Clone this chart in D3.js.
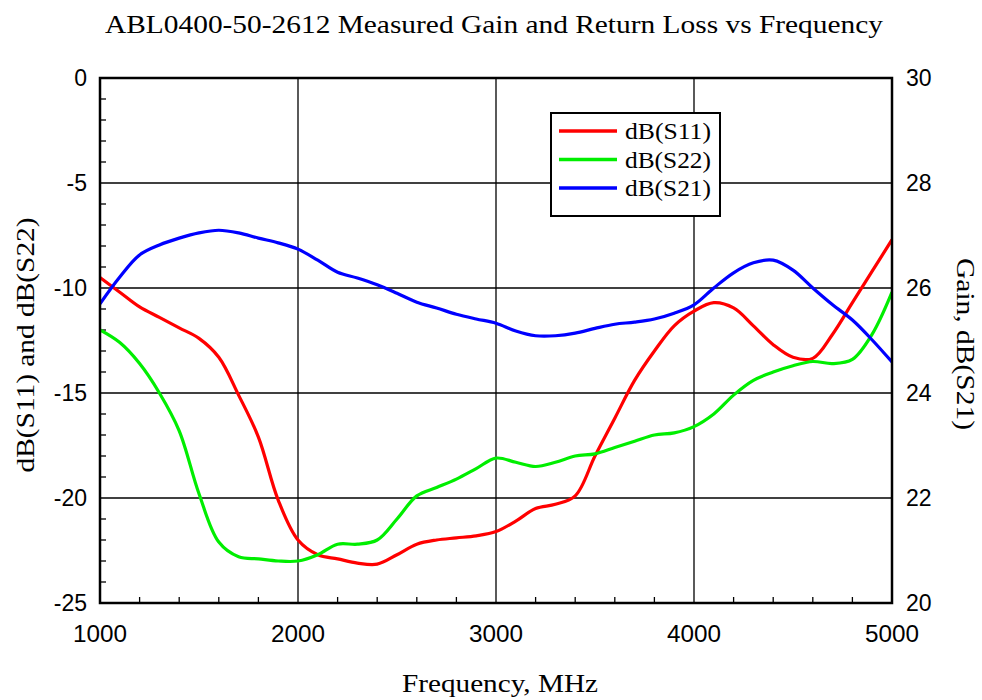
<!DOCTYPE html>
<html>
<head>
<meta charset="utf-8">
<script src="https://cdn.jsdelivr.net/npm/d3@7"></script>
<style>
  body { margin: 0; background: #fff; }
  svg { display: block; }
</style>
</head>
<body>
<div id="chart"></div>
<script>
// frequency points, MHz
const freqs = [1000, 1100, 1200, 1300, 1400, 1500, 1600, 1700, 1800, 1900,
               2000, 2100, 2200, 2300, 2400, 2500, 2600, 2700, 2800, 2900,
               3000, 3100, 3200, 3300, 3400, 3500, 3600, 3700, 3800, 3900,
               4000, 4100, 4200, 4300, 4400, 4500, 4600, 4700, 4800, 4900, 5000];

// return loss, dB (left axis)
const s11 = [-9.5, -10.2, -10.9, -11.4, -11.9, -12.4, -13.3, -15.1, -17.1, -20.1,
             -22.0, -22.7, -22.9, -23.1, -23.15, -22.7, -22.2, -22.0, -21.9, -21.8,
             -21.6, -21.1, -20.5, -20.3, -19.9, -18.0, -16.2, -14.4, -13.0, -11.8,
             -11.1, -10.7, -10.95, -11.8, -12.7, -13.3, -13.35, -12.2, -10.7, -9.2, -7.7];

const s22 = [-12.0, -12.6, -13.6, -15.0, -16.8, -19.8, -22.1, -22.8, -22.9, -23.0,
             -23.0, -22.7, -22.2, -22.2, -22.0, -21.0, -19.9, -19.5, -19.1, -18.6,
             -18.1, -18.3, -18.5, -18.3, -18.0, -17.9, -17.6, -17.3, -17.0, -16.9,
             -16.6, -16.0, -15.1, -14.4, -14.0, -13.7, -13.5, -13.6, -13.4, -12.2, -10.2];

// gain, dB (right axis)
const s21 = [25.70, 26.21, 26.63, 26.82, 26.95, 27.05, 27.10, 27.05, 26.95, 26.86,
             26.74, 26.53, 26.30, 26.19, 26.06, 25.90, 25.73, 25.62, 25.50, 25.41,
             25.33, 25.18, 25.09, 25.09, 25.14, 25.23, 25.31, 25.35, 25.41, 25.52,
             25.68, 26.00, 26.29, 26.48, 26.53, 26.34, 26.00, 25.68, 25.39, 25.01, 24.59];

const xTicks = [1000, 2000, 3000, 4000, 5000];
const yLeftTicks = [0, -5, -10, -15, -20, -25];
const yRightTicks = [30, 28, 26, 24, 22, 20];

const series = [
  { name: "dB(S11)", values: s11, color: "#ff0000", axis: "left" },
  { name: "dB(S22)", values: s22, color: "#00ee00", axis: "left" },
  { name: "dB(S21)", values: s21, color: "#0000ff", axis: "right" }
];

const W = 982, H = 700;
const margin = { top: 78, right: 90, bottom: 97, left: 100 };
const width = W - margin.left - margin.right;
const height = H - margin.top - margin.bottom;

const svg = d3.select("#chart")
    .append("svg")
    .attr("width", W)
    .attr("height", H);

const g = svg.append("g")
    .attr("transform", `translate(${margin.left},${margin.top})`);

const x = d3.scaleLinear().domain([1000, 5000]).range([0, width]);
const yL = d3.scaleLinear().domain([-25, 0]).range([height, 0]);
const yR = d3.scaleLinear().domain([20, 30]).range([height, 0]);

// grid
g.append("g")
    .selectAll("line")
    .data(xTicks.slice(1, -1))
    .enter().append("line")
    .attr("x1", d => x(d)).attr("x2", d => x(d))
    .attr("y1", 0).attr("y2", height)
    .attr("stroke", "#000").attr("stroke-width", 1.3);

g.append("g")
    .selectAll("line")
    .data(yLeftTicks.slice(1, -1))
    .enter().append("line")
    .attr("x1", 0).attr("x2", width)
    .attr("y1", d => yL(d)).attr("y2", d => yL(d))
    .attr("stroke", "#000").attr("stroke-width", 1.3);

// minor ticks, inward
g.append("g")
    .selectAll("line")
    .data(d3.range(-24, 0, 1).filter(d => d % 5 !== 0))
    .enter().append("line")
    .attr("x1", 0).attr("x2", 6)
    .attr("y1", d => yL(d)).attr("y2", d => yL(d))
    .attr("stroke", "#000").attr("stroke-width", 1.3);

g.append("g")
    .selectAll("line")
    .data(d3.range(1200, 5000, 200).filter(d => d % 1000 !== 0))
    .enter().append("line")
    .attr("x1", d => x(d)).attr("x2", d => x(d))
    .attr("y1", height).attr("y2", height - 6)
    .attr("stroke", "#000").attr("stroke-width", 1.3);

// curves
const lineL = d3.line()
    .x((d, i) => x(freqs[i]))
    .y(d => yL(d))
    .curve(d3.curveCatmullRom);
const lineR = d3.line()
    .x((d, i) => x(freqs[i]))
    .y(d => yR(d))
    .curve(d3.curveCatmullRom);

g.append("defs").append("clipPath").attr("id", "clip")
    .append("rect").attr("width", width).attr("height", height);

g.append("g")
    .attr("clip-path", "url(#clip)")
    .selectAll("path")
    .data(series)
    .enter().append("path")
    .attr("d", d => d.axis === "left" ? lineL(d.values) : lineR(d.values))
    .attr("fill", "none")
    .attr("stroke", d => d.color)
    .attr("stroke-width", 3.2)
    .attr("stroke-linejoin", "round");

// frame
g.append("rect")
    .attr("width", width).attr("height", height)
    .attr("fill", "none").attr("stroke", "#000").attr("stroke-width", 2.5);

// tick labels
const tickFont = "'Liberation Sans', Arial, sans-serif";
g.append("g")
    .selectAll("text")
    .data(xTicks)
    .enter().append("text")
    .attr("x", d => x(d)).attr("y", height + 39)
    .attr("text-anchor", "middle")
    .attr("font-family", tickFont).attr("font-size", 23)
    .attr("textLength", 54).attr("lengthAdjust", "spacingAndGlyphs")
    .text(d => d);

g.append("g")
    .selectAll("text")
    .data(yLeftTicks)
    .enter().append("text")
    .attr("x", -13).attr("y", d => yL(d) + 8)
    .attr("text-anchor", "end")
    .attr("font-family", tickFont).attr("font-size", 23)
    .text(d => d);

g.append("g")
    .selectAll("text")
    .data(yRightTicks)
    .enter().append("text")
    .attr("x", width + 14).attr("y", d => yR(d) + 8)
    .attr("text-anchor", "start")
    .attr("font-family", tickFont).attr("font-size", 23)
    .text(d => d);

// titles
const serif = "'Liberation Serif', 'Times New Roman', serif";
svg.append("text")
    .attr("x", 494).attr("y", 33)
    .attr("text-anchor", "middle")
    .attr("font-family", serif).attr("font-size", 25)
    .attr("textLength", 778).attr("lengthAdjust", "spacingAndGlyphs")
    .text("ABL0400-50-2612 Measured Gain and Return Loss vs Frequency");

svg.append("text")
    .attr("x", 500).attr("y", 692)
    .attr("text-anchor", "middle")
    .attr("font-family", serif).attr("font-size", 25)
    .attr("textLength", 196).attr("lengthAdjust", "spacingAndGlyphs")
    .text("Frequency, MHz");

svg.append("text")
    .attr("transform", `translate(34,345) rotate(-90)`)
    .attr("text-anchor", "middle")
    .attr("font-family", serif).attr("font-size", 26)
    .attr("textLength", 255).attr("lengthAdjust", "spacingAndGlyphs")
    .text("dB(S11) and dB(S22)");

svg.append("text")
    .attr("transform", `translate(957,344) rotate(90)`)
    .attr("text-anchor", "middle")
    .attr("font-family", serif).attr("font-size", 26)
    .attr("textLength", 172).attr("lengthAdjust", "spacingAndGlyphs")
    .text("Gain, dB(S21)");

// legend
const legend = svg.append("g").attr("transform", "translate(551,113)");
legend.append("rect")
    .attr("width", 169).attr("height", 103)
    .attr("fill", "#fff").attr("stroke", "#000").attr("stroke-width", 2);

const items = legend.selectAll("g.item")
    .data(series)
    .enter().append("g")
    .attr("class", "item")
    .attr("transform", (d, i) => `translate(0,${18 + i * 28.5})`);

items.append("line")
    .attr("x1", 8).attr("x2", 66)
    .attr("stroke", d => d.color).attr("stroke-width", 3.5);

items.append("text")
    .attr("x", 74).attr("y", 8)
    .attr("font-family", serif).attr("font-size", 23)
    .attr("textLength", 86).attr("lengthAdjust", "spacingAndGlyphs")
    .text(d => d.name);
</script>
</body>
</html>
